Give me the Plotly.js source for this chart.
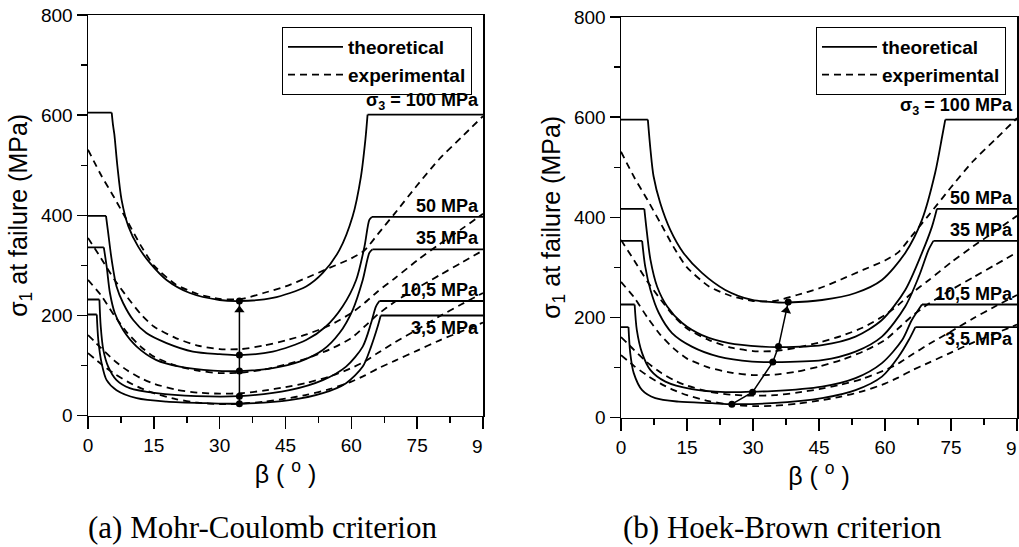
<!DOCTYPE html>
<html><head><meta charset="utf-8">
<script src="https://cdn.plot.ly/plotly-3.0.1.min.js"></script>
<style>html,body{margin:0;padding:0;background:#fff}#chart{width:1019px;height:547px}</style>
</head><body><div id="chart"></div>
<script>
// ---------- experimental (same test data in both panels) ----------
const expBeta = [0,3,6,9,12,15,20,25,30,35,40,45,50,55,60,63,66,70,75,80,85,90];
const exp100  = [531,480,435,388,340,300,262,243,233,233,245,258,276,295,314,330,362,405,460,512,555,598];
const exp50   = [355,314,272,236,203,178,155,140,133,133,140,150,163,180,205,225,248,275,310,342,372,403];
const exp35   = [271,240,200,165,138,118,100,90,85,86,92,102,115,132,155,178,202,228,255,280,305,330];
const exp10_5 = [161,135,110,90,75,64,52,46,44,45,50,57,66,78,95,108,125,147,172,198,222,245];
const exp3_5  = [125,103,84,68,55,45,33,26,23,24,28,34,42,53,68,80,94,110,130,150,168,186];

// ---------- theoretical: Mohr-Coulomb ----------
const mc100Beta = [0,5.4,5.7,6.0,6.7,7.65,9.2,11.4,14.1,17.9,23.2,30,34.5,42.1,49.7,53.5,57.3,60.3,62.2,63.2,63.7,90];
const mc100     = [605,605,580,562,498,431,378,338,305,271,245,231,229,235,258,285,331,398,478,551,601,601];
const mc50Beta  = [0,4.1,4.6,5.4,6.5,8.0,10.3,13.3,17.9,23.9,30,34.5,42.1,49.7,54.2,58,61.1,63,64.1,64.7,90];
const mc50      = [399,399,365,311,258,225,191,165,145,128,123,121,128,151,178,218,271,338,391,397,397];
const mc35Beta  = [0,3.6,4.25,5,6.1,8,11.1,15.6,20.9,28.5,34.5,42.1,48.2,53.5,57.3,60.3,62.6,64.1,64.8,90];
const mc35      = [336,336,298,245,205,171,138,111,98,90,89,95,108,131,165,211,271,325,332,332];
const mc10_5Beta= [0,2.6,2.9,3.5,4.6,6.5,9.5,15.6,24.7,34.5,45.9,53.5,58.8,62.6,64.5,65.6,66.4,90];
const mc10_5    = [232,232,178,131,98,71,55,45,39,39,51,71,98,138,185,218,229,229];
const mc3_5Beta = [0,2.0,2.35,3.1,4.25,6.5,11.1,17.9,27,34.5,45.9,53.5,58.8,62.6,64.5,66,66.7,90];
const mc3_5     = [202,202,151,105,71,51,35,28,25,24,31,45,65,98,138,178,200,200];
const mcMinBeta = [34.5,34.5,34.5,34.5,34.5];
const mcMin     = [24,39,89,121,229];
const mcArrowBeta = [34.5];
const mcArrow     = [211];

// ---------- theoretical: Hoek-Brown ----------
const hb100Beta = [0,6.1,6.7,7.4,8.9,11.2,14.2,18.4,23.7,29.8,35.8,38,45.7,53.3,59.3,64.6,68.4,71.4,73,73.7,90];
const hb100     = [595,595,535,482,429,375,329,289,255,235,230,230,235,249,275,329,395,489,562,595,595];
const hb50Beta  = [0,5.3,5.9,6.7,8.2,10.5,13.9,18.4,24.5,32,36,45.7,53.3,59.3,64.6,68.4,70.7,71.8,90];
const hb50      = [417,417,369,315,262,222,189,165,149,142,141,145,162,195,255,329,382,417,417];
const hb35Beta  = [0,4.8,5.5,6.7,8.6,11.6,16.1,22.2,29.8,34.5,45.7,53.3,59.3,64.6,67.7,69.9,71,90];
const hb35      = [353,353,302,255,209,169,142,122,112,111,115,132,162,222,282,335,353,353];
const hb10_5Beta= [0,3.1,3.6,4.8,6.7,10.1,16.1,23.7,29.9,34.3,45.7,53.3,59.3,63.9,66.1,68.4,90];
const hb10_5    = [226,226,175,129,95,72,57,51,52,53,62,79,109,155,195,226,226];
const hb3_5Beta = [0,1.7,2.1,2.9,4.8,7.8,13.1,20.7,25.2,34.3,45.7,53.3,59.3,63.1,65.4,66.9,90];
const hb3_5     = [181,181,129,89,55,39,32,29,27,29,39,55,82,122,155,181,181];
const hbMinBeta = [25.2,29.9,34.5,35.8,38.0];
const hbMin     = [27,51,111,142,231];
const hbArrowBeta = [37.6];
const hbArrow     = [214];

const xTickVals = [0,15,30,45,60,75,90];
const xTickText = ['0','15','30','45','60','75',' '];
const xEndLabel = '9';            // the "90" label is cut to "9" in the source figure
const yTickVals = [0,200,400,600,800];
const curveLabels = ['σ<sub>3</sub> = 100 MPa','50 MPa','35 MPa','10,5 MPa','3,5 MPa'];
const captions = ['(a) Mohr-Coulomb criterion','(b) Hoek-Brown criterion'];

// ---------- helpers ----------
function joinCurves(list){
  const x=[],y=[];
  list.forEach((c,i)=>{ if(i){x.push(null);y.push(null);} x.push(...c[0]); y.push(...c[1]); });
  return {x,y};
}
// split each theoretical curve into its two flat plateaus and its curved middle part
function splitTheory(list){
  const flats=[],curves=[];
  list.forEach(c=>{
    const bx=c[0],sy=c[1],n=bx.length;
    flats.push([bx.slice(0,2),sy.slice(0,2)]);
    flats.push([bx.slice(n-2),sy.slice(n-2)]);
    curves.push([bx.slice(1,n-1),sy.slice(1,n-1)]);
  });
  return {flat:joinCurves(flats),curve:joinCurves(curves)};
}
const W=1019,H=547;
const FONT='Arial, "Liberation Sans", sans-serif';
const DASH='7px,5px';

const expSet = joinCurves([[expBeta,exp100],[expBeta,exp50],[expBeta,exp35],[expBeta,exp10_5],[expBeta,exp3_5]]);
const mcSet  = splitTheory([[mc100Beta,mc100],[mc50Beta,mc50],[mc35Beta,mc35],[mc10_5Beta,mc10_5],[mc3_5Beta,mc3_5]]);
const hbSet  = splitTheory([[hb100Beta,hb100],[hb50Beta,hb50],[hb35Beta,hb35],[hb10_5Beta,hb10_5],[hb3_5Beta,hb3_5]]);

function panelTraces(th,minB,minS,arB,arS,arAngle,xa,ya,lg){
  return [
    {x:th.curve.x,y:th.curve.y,xaxis:xa,yaxis:ya,mode:'lines',name:'theoretical',legend:lg,legendgroup:lg+'t',
     line:{color:'#000',width:1.8,shape:'spline',smoothing:0.8},connectgaps:false},
    {x:th.flat.x,y:th.flat.y,xaxis:xa,yaxis:ya,mode:'lines',name:'theoretical',legend:lg,legendgroup:lg+'t',showlegend:false,
     line:{color:'#000',width:1.8},connectgaps:false},
    {x:expSet.x,y:expSet.y,xaxis:xa,yaxis:ya,mode:'lines',name:'experimental',legend:lg,
     line:{color:'#000',width:1.8,dash:DASH,shape:'spline',smoothing:0.6},connectgaps:false},
    {x:minB,y:minS,xaxis:xa,yaxis:ya,mode:'lines+markers',showlegend:false,
     line:{color:'#000',width:1.5},marker:{color:'#000',size:7}},
    {x:arB,y:arS,xaxis:xa,yaxis:ya,mode:'markers',showlegend:false,
     marker:{symbol:'triangle-up',color:'#000',size:9,angle:arAngle,line:{width:0}}}
  ];
}
const data = [
  ...panelTraces(mcSet,mcMinBeta,mcMin,mcArrowBeta,mcArrow,0,'x','y','legend'),
  ...panelTraces(hbSet,hbMinBeta,hbMin,hbArrowBeta,hbArrow,12,'x2','y2','legend2')
];

function xAxis(l,r,anchor){
  return {domain:[l/W,r/W],range:[0,90],anchor:anchor,tickmode:'array',tickvals:xTickVals,ticktext:xTickText,
    ticks:'outside',ticklen:12,tickwidth:1.5,tickcolor:'#000',showline:true,linewidth:1.5,linecolor:'#000',mirror:true,
    showgrid:false,zeroline:false,tickfont:{family:FONT,size:19,color:'#000'},
    minor:{tickmode:'linear',tick0:0,dtick:7.5,ticks:'outside',ticklen:6,tickwidth:1.5,tickcolor:'#000',showgrid:false},
    title:{text:'β ( <sup>o</sup> )',font:{family:FONT,size:25,color:'#000'},standoff:2}};
}
function yAxis(b,t,anchor){
  return {domain:[1-b/H,1-t/H],range:[0,800],anchor:anchor,tickmode:'array',tickvals:yTickVals,
    ticks:'outside',ticklen:10,tickwidth:1.5,tickcolor:'#000',showline:true,linewidth:1.5,linecolor:'#000',mirror:true,
    showgrid:false,zeroline:false,tickfont:{family:FONT,size:19,color:'#000'},
    minor:{tickmode:'linear',tick0:0,dtick:100,ticks:'outside',ticklen:6,tickwidth:1.5,tickcolor:'#000',showgrid:false},
    title:{text:'σ<sub>1</sub> at failure (MPa)',font:{family:FONT,size:25,color:'#000'},standoff:6}};
}
function legendCfg(rightPx){
  return {x:rightPx/W,y:1-27/H,xanchor:'right',yanchor:'top',bgcolor:'#fff',bordercolor:'#000',borderwidth:1,
    font:{family:FONT,size:19,color:'#000',weight:'bold'},itemwidth:55,tracegroupgap:0};
}

const lblFont={family:FONT,size:18,color:'#000',weight:'bold'};
function labels(xr,yr,vals,below){
  return curveLabels.map((t,i)=>({xref:xr,yref:yr,x:89.3,y:vals[i],xanchor:'right',
    yanchor:below[i]?'top':'bottom',text:t,showarrow:false,font:lblFont,borderpad:0,yshift:below[i]?-1:0}));
}
function endTick(xr,yPx){
  return {xref:xr,yref:'paper',x:90,y:1-yPx/H,xanchor:'right',yanchor:'middle',xshift:1,text:xEndLabel,
    showarrow:false,font:{family:FONT,size:19,color:'#000'},borderpad:0};
}
const capFont={family:'"Liberation Serif", "DejaVu Serif", serif',size:31,color:'#000'};
const anns = [
  ...labels('x','y',[602,397,332,229,200],[0,0,0,0,1]),
  ...labels('x2','y2',[597,417,353,226,181],[0,0,0,0,1]),
  endTick('x',446), endTick('x2',448),
  {xref:'paper',yref:'paper',x:262/W,y:1-527/H,xanchor:'center',yanchor:'middle',text:captions[0],showarrow:false,font:capFont},
  {xref:'paper',yref:'paper',x:782/W,y:1-527/H,xanchor:'center',yanchor:'middle',text:captions[1],showarrow:false,font:capFont}
];

const layout = {
  width:W,height:H,margin:{l:0,r:0,t:0,b:0},paper_bgcolor:'#fff',plot_bgcolor:'#fff',
  font:{family:FONT,color:'#000'},
  xaxis:xAxis(88,483,'y'), yaxis:yAxis(415.7,15,'x'),
  xaxis2:xAxis(621,1017,'y2'), yaxis2:yAxis(417.7,17,'x2'),
  legend:legendCfg(472), legend2:legendCfg(1006),
  annotations:anns, showlegend:true
};
Plotly.newPlot('chart',data,layout,{displayModeBar:false,staticPlot:true});
</script></body></html>
